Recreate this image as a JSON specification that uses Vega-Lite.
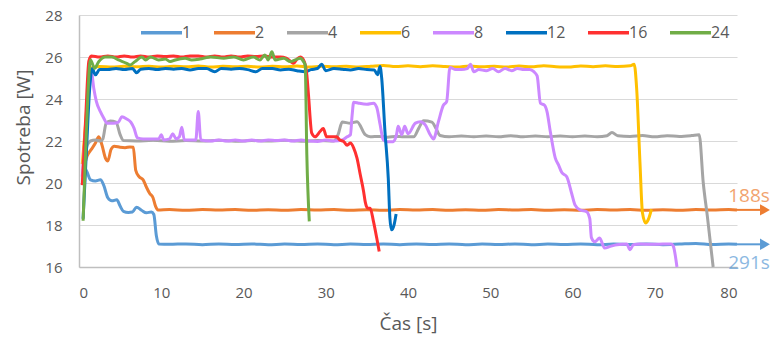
{
  "$schema": "https://vega.github.io/schema/vega-lite/v6.json",
  "width": 658,
  "height": 252,
  "autosize": {"type": "none"},
  "padding": {"left": 79, "top": 15, "right": 40, "bottom": 75},
  "background": "white",
  "config": {
    "view": {"stroke": null},
    "font": "Open Sans",
    "axis": {"labelColor": "#595959", "titleColor": "#595959", "labelFont": "Open Sans", "titleFont": "Open Sans", "titleFontWeight": "normal"}
  },
  "datasets": {
    "power": [
      {"s":1,"x":0.5,"y":20.9},{"s":1,"x":1.0,"y":20.5},{"s":1,"x":1.4,"y":20.15},{"s":1,"x":2.0,"y":20.1},{"s":1,"x":2.6,"y":20.15},{"s":1,"x":3.0,"y":19.9},{"s":1,"x":3.5,"y":19.3},{"s":1,"x":4.0,"y":19.15},{"s":1,"x":4.6,"y":19.2},{"s":1,"x":5.0,"y":18.9},{"s":1,"x":5.4,"y":18.65},{"s":1,"x":6.0,"y":18.6},{"s":1,"x":6.5,"y":18.62},{"s":1,"x":7.0,"y":18.85},{"s":1,"x":7.6,"y":18.7},{"s":1,"x":8.2,"y":18.58},{"s":1,"x":8.8,"y":18.62},{"s":1,"x":9.1,"y":18.5},{"s":1,"x":9.4,"y":17.5},{"s":1,"x":9.7,"y":17.1},{"s":1,"x":11,"y":17.08},{"s":1,"x":13,"y":17.1},{"s":1,"x":15,"y":17.06},{"s":1,"x":17,"y":17.1},{"s":1,"x":19,"y":17.07},{"s":1,"x":21,"y":17.1},{"s":1,"x":23,"y":17.06},{"s":1,"x":25,"y":17.09},{"s":1,"x":27,"y":17.07},{"s":1,"x":29,"y":17.1},{"s":1,"x":31,"y":17.06},{"s":1,"x":33,"y":17.09},{"s":1,"x":35,"y":17.07},{"s":1,"x":37,"y":17.1},{"s":1,"x":39,"y":17.06},{"s":1,"x":41,"y":17.1},{"s":1,"x":43,"y":17.07},{"s":1,"x":45,"y":17.1},{"s":1,"x":47,"y":17.06},{"s":1,"x":49,"y":17.09},{"s":1,"x":51,"y":17.07},{"s":1,"x":53,"y":17.1},{"s":1,"x":55,"y":17.06},{"s":1,"x":57,"y":17.09},{"s":1,"x":59,"y":17.07},{"s":1,"x":61,"y":17.1},{"s":1,"x":63,"y":17.06},{"s":1,"x":65,"y":17.09},{"s":1,"x":67,"y":17.07},{"s":1,"x":69,"y":17.1},{"s":1,"x":71,"y":17.06},{"s":1,"x":73,"y":17.09},{"s":1,"x":75,"y":17.12},{"s":1,"x":77,"y":17.07},{"s":1,"x":79,"y":17.1},{"s":1,"x":80,"y":17.08},

      {"s":2,"x":0.5,"y":20.6},{"s":2,"x":1.0,"y":21.3},{"s":2,"x":1.5,"y":21.6},{"s":2,"x":2.0,"y":21.9},{"s":2,"x":2.4,"y":22.2},{"s":2,"x":2.8,"y":21.8},{"s":2,"x":3.2,"y":21.2},{"s":2,"x":3.5,"y":21.05},{"s":2,"x":3.9,"y":21.6},{"s":2,"x":4.3,"y":21.75},{"s":2,"x":5.0,"y":21.7},{"s":2,"x":5.6,"y":21.68},{"s":2,"x":6.2,"y":21.72},{"s":2,"x":6.6,"y":21.7},{"s":2,"x":6.9,"y":20.6},{"s":2,"x":7.3,"y":20.3},{"s":2,"x":7.8,"y":20.15},{"s":2,"x":8.2,"y":19.8},{"s":2,"x":8.6,"y":19.5},{"s":2,"x":9.0,"y":19.3},{"s":2,"x":9.3,"y":18.9},{"s":2,"x":9.6,"y":18.72},{"s":2,"x":11,"y":18.74},{"s":2,"x":13,"y":18.7},{"s":2,"x":15,"y":18.74},{"s":2,"x":17,"y":18.71},{"s":2,"x":19,"y":18.74},{"s":2,"x":21,"y":18.7},{"s":2,"x":23,"y":18.73},{"s":2,"x":25,"y":18.7},{"s":2,"x":27,"y":18.74},{"s":2,"x":29,"y":18.71},{"s":2,"x":31,"y":18.74},{"s":2,"x":33,"y":18.7},{"s":2,"x":35,"y":18.73},{"s":2,"x":37,"y":18.7},{"s":2,"x":39,"y":18.74},{"s":2,"x":41,"y":18.71},{"s":2,"x":43,"y":18.74},{"s":2,"x":45,"y":18.7},{"s":2,"x":47,"y":18.73},{"s":2,"x":49,"y":18.7},{"s":2,"x":51,"y":18.74},{"s":2,"x":53,"y":18.71},{"s":2,"x":55,"y":18.74},{"s":2,"x":57,"y":18.7},{"s":2,"x":59,"y":18.73},{"s":2,"x":61,"y":18.7},{"s":2,"x":63,"y":18.74},{"s":2,"x":65,"y":18.71},{"s":2,"x":67,"y":18.74},{"s":2,"x":69,"y":18.7},{"s":2,"x":71,"y":18.73},{"s":2,"x":73,"y":18.7},{"s":2,"x":75,"y":18.74},{"s":2,"x":77,"y":18.71},{"s":2,"x":79,"y":18.74},{"s":2,"x":80,"y":18.72},

      {"s":4,"x":0.4,"y":19.9},{"s":4,"x":1.0,"y":21.8},{"s":4,"x":1.4,"y":22.0},{"s":4,"x":2.0,"y":22.05},{"s":4,"x":2.6,"y":22.0},{"s":4,"x":2.9,"y":22.1},{"s":4,"x":3.3,"y":22.85},{"s":4,"x":3.8,"y":22.95},{"s":4,"x":4.5,"y":22.9},{"s":4,"x":5.0,"y":22.3},{"s":4,"x":5.4,"y":22.02},{"s":4,"x":7,"y":22.0},{"s":4,"x":9,"y":22.03},{"s":4,"x":11,"y":21.99},{"s":4,"x":13,"y":22.02},{"s":4,"x":15,"y":22.0},{"s":4,"x":17,"y":22.03},{"s":4,"x":19,"y":21.99},{"s":4,"x":21,"y":22.02},{"s":4,"x":23,"y":22.0},{"s":4,"x":25,"y":22.03},{"s":4,"x":27,"y":21.99},{"s":4,"x":29,"y":22.02},{"s":4,"x":31,"y":22.0},{"s":4,"x":31.5,"y":22.3},{"s":4,"x":32,"y":22.9},{"s":4,"x":33,"y":22.85},{"s":4,"x":33.8,"y":22.92},{"s":4,"x":34.8,"y":22.3},{"s":4,"x":35.4,"y":22.2},{"s":4,"x":36.5,"y":22.22},{"s":4,"x":37.5,"y":22.18},{"s":4,"x":38.5,"y":22.22},{"s":4,"x":39.5,"y":22.2},{"s":4,"x":40.7,"y":22.2},{"s":4,"x":41.3,"y":22.6},{"s":4,"x":41.9,"y":22.96},{"s":4,"x":42.9,"y":22.9},{"s":4,"x":43.4,"y":22.6},{"s":4,"x":43.9,"y":22.26},{"s":4,"x":45,"y":22.2},{"s":4,"x":46.5,"y":22.24},{"s":4,"x":48,"y":22.2},{"s":4,"x":49.5,"y":22.24},{"s":4,"x":51,"y":22.2},{"s":4,"x":52.5,"y":22.25},{"s":4,"x":54,"y":22.2},{"s":4,"x":55.5,"y":22.24},{"s":4,"x":57,"y":22.2},{"s":4,"x":58.5,"y":22.24},{"s":4,"x":60,"y":22.2},{"s":4,"x":61.5,"y":22.24},{"s":4,"x":63,"y":22.2},{"s":4,"x":64.2,"y":22.25},{"s":4,"x":64.8,"y":22.4},{"s":4,"x":65.5,"y":22.25},{"s":4,"x":67,"y":22.22},{"s":4,"x":68.5,"y":22.26},{"s":4,"x":70,"y":22.2},{"s":4,"x":71.5,"y":22.25},{"s":4,"x":73,"y":22.22},{"s":4,"x":74.5,"y":22.26},{"s":4,"x":75.4,"y":22.3},{"s":4,"x":75.9,"y":20.0},{"s":4,"x":76.4,"y":18.4},{"s":4,"x":77.1,"y":16.0},

      {"s":6,"x":0.4,"y":20.9},{"s":6,"x":0.8,"y":22.8},{"s":6,"x":1.2,"y":24.8},{"s":6,"x":1.6,"y":25.5},{"s":6,"x":2.5,"y":25.55},{"s":6,"x":4,"y":25.52},{"s":6,"x":5.5,"y":25.56},{"s":6,"x":7,"y":25.53},{"s":6,"x":8.5,"y":25.56},{"s":6,"x":10,"y":25.52},{"s":6,"x":11.5,"y":25.56},{"s":6,"x":13,"y":25.53},{"s":6,"x":14.5,"y":25.57},{"s":6,"x":16,"y":25.52},{"s":6,"x":17.5,"y":25.56},{"s":6,"x":19,"y":25.53},{"s":6,"x":20.5,"y":25.56},{"s":6,"x":22,"y":25.52},{"s":6,"x":23.5,"y":25.56},{"s":6,"x":25,"y":25.53},{"s":6,"x":26.5,"y":25.57},{"s":6,"x":28,"y":25.52},{"s":6,"x":29.5,"y":25.56},{"s":6,"x":31,"y":25.53},{"s":6,"x":32.5,"y":25.56},{"s":6,"x":34,"y":25.52},{"s":6,"x":35.5,"y":25.56},{"s":6,"x":37,"y":25.6},{"s":6,"x":38.5,"y":25.55},{"s":6,"x":40,"y":25.58},{"s":6,"x":41.5,"y":25.54},{"s":6,"x":43,"y":25.58},{"s":6,"x":44.5,"y":25.55},{"s":6,"x":46,"y":25.52},{"s":6,"x":47.5,"y":25.57},{"s":6,"x":49,"y":25.53},{"s":6,"x":50.5,"y":25.56},{"s":6,"x":52,"y":25.52},{"s":6,"x":53.5,"y":25.57},{"s":6,"x":55,"y":25.53},{"s":6,"x":56.5,"y":25.58},{"s":6,"x":58,"y":25.54},{"s":6,"x":59.5,"y":25.52},{"s":6,"x":61,"y":25.57},{"s":6,"x":62.5,"y":25.54},{"s":6,"x":64,"y":25.58},{"s":6,"x":65.5,"y":25.55},{"s":6,"x":67,"y":25.58},{"s":6,"x":67.5,"y":25.65},{"s":6,"x":67.8,"y":24.5},{"s":6,"x":68.2,"y":21.0},{"s":6,"x":68.5,"y":18.6},{"s":6,"x":68.9,"y":18.1},{"s":6,"x":69.2,"y":18.25},{"s":6,"x":69.6,"y":18.75},

      {"s":8,"x":0.4,"y":20.3},{"s":8,"x":1.0,"y":23.5},{"s":8,"x":1.5,"y":25.3},{"s":8,"x":1.8,"y":24.5},{"s":8,"x":2.1,"y":23.9},{"s":8,"x":2.6,"y":23.4},{"s":8,"x":3.0,"y":23.1},{"s":8,"x":3.4,"y":22.85},{"s":8,"x":4.2,"y":22.85},{"s":8,"x":4.8,"y":22.9},{"s":8,"x":5.2,"y":23.15},{"s":8,"x":5.8,"y":23.05},{"s":8,"x":6.3,"y":22.9},{"s":8,"x":6.7,"y":22.6},{"s":8,"x":7.1,"y":22.15},{"s":8,"x":7.8,"y":22.1},{"s":8,"x":9.0,"y":22.1},{"s":8,"x":9.7,"y":22.1},{"s":8,"x":10.0,"y":22.3},{"s":8,"x":10.3,"y":22.05},{"s":8,"x":11.0,"y":22.1},{"s":8,"x":11.4,"y":22.35},{"s":8,"x":11.8,"y":22.1},{"s":8,"x":12.2,"y":22.2},{"s":8,"x":12.5,"y":22.65},{"s":8,"x":12.8,"y":22.05},{"s":8,"x":13.5,"y":22.05},{"s":8,"x":14.2,"y":22.05},{"s":8,"x":14.5,"y":23.4},{"s":8,"x":14.8,"y":22.05},{"s":8,"x":16,"y":22.0},{"s":8,"x":17,"y":22.05},{"s":8,"x":18,"y":22.0},{"s":8,"x":19,"y":22.05},{"s":8,"x":20,"y":22.0},{"s":8,"x":21,"y":22.05},{"s":8,"x":22,"y":22.0},{"s":8,"x":23,"y":22.05},{"s":8,"x":24,"y":22.02},{"s":8,"x":25,"y":22.05},{"s":8,"x":26,"y":22.0},{"s":8,"x":27,"y":22.05},{"s":8,"x":28,"y":22.0},{"s":8,"x":29,"y":21.98},{"s":8,"x":30,"y":22.05},{"s":8,"x":31,"y":22.0},{"s":8,"x":32,"y":22.05},{"s":8,"x":32.6,"y":22.2},{"s":8,"x":33.0,"y":22.3},{"s":8,"x":33.2,"y":23.2},{"s":8,"x":33.4,"y":23.85},{"s":8,"x":34,"y":23.8},{"s":8,"x":35,"y":23.75},{"s":8,"x":35.8,"y":23.8},{"s":8,"x":36.2,"y":23.6},{"s":8,"x":36.6,"y":22.8},{"s":8,"x":37.0,"y":22.05},{"s":8,"x":37.4,"y":21.97},{"s":8,"x":38.2,"y":21.97},{"s":8,"x":38.6,"y":22.3},{"s":8,"x":38.8,"y":22.7},{"s":8,"x":39.25,"y":22.3},{"s":8,"x":39.6,"y":22.7},{"s":8,"x":40.0,"y":22.35},{"s":8,"x":40.9,"y":22.85},{"s":8,"x":41.5,"y":22.92},{"s":8,"x":42.1,"y":22.77},{"s":8,"x":42.7,"y":22.3},{"s":8,"x":43.1,"y":22.1},{"s":8,"x":43.7,"y":22.92},{"s":8,"x":44.3,"y":23.7},{"s":8,"x":44.7,"y":23.87},{"s":8,"x":45.1,"y":25.5},{"s":8,"x":45.8,"y":25.4},{"s":8,"x":46.5,"y":25.4},{"s":8,"x":47.2,"y":25.45},{"s":8,"x":47.6,"y":25.65},{"s":8,"x":48.0,"y":25.3},{"s":8,"x":48.6,"y":25.4},{"s":8,"x":49.5,"y":25.35},{"s":8,"x":50.3,"y":25.45},{"s":8,"x":51.0,"y":25.3},{"s":8,"x":51.8,"y":25.45},{"s":8,"x":52.6,"y":25.35},{"s":8,"x":53.3,"y":25.45},{"s":8,"x":54.1,"y":25.4},{"s":8,"x":54.8,"y":25.4},{"s":8,"x":55.3,"y":25.3},{"s":8,"x":55.7,"y":25.1},{"s":8,"x":56.1,"y":23.8},{"s":8,"x":56.6,"y":23.7},{"s":8,"x":56.9,"y":23.4},{"s":8,"x":57.3,"y":22.45},{"s":8,"x":57.9,"y":21.2},{"s":8,"x":58.3,"y":20.86},{"s":8,"x":58.7,"y":20.5},{"s":8,"x":59.3,"y":20.3},{"s":8,"x":59.9,"y":19.5},{"s":8,"x":60.3,"y":18.96},{"s":8,"x":60.9,"y":18.72},{"s":8,"x":61.7,"y":18.64},{"s":8,"x":62.1,"y":18.3},{"s":8,"x":62.3,"y":17.4},{"s":8,"x":62.7,"y":17.2},{"s":8,"x":63.3,"y":17.38},{"s":8,"x":63.9,"y":16.9},{"s":8,"x":64.6,"y":16.98},{"s":8,"x":65.4,"y":17.06},{"s":8,"x":66.6,"y":17.09},{"s":8,"x":67.0,"y":16.82},{"s":8,"x":67.4,"y":17.06},{"s":8,"x":68.2,"y":17.09},{"s":8,"x":70,"y":17.08},{"s":8,"x":72.0,"y":17.1},{"s":8,"x":72.25,"y":17.0},{"s":8,"x":72.7,"y":16.0},

      {"s":12,"x":0.5,"y":18.3},{"s":12,"x":0.9,"y":21.5},{"s":12,"x":1.3,"y":24.5},{"s":12,"x":1.6,"y":25.45},{"s":12,"x":2.0,"y":25.15},{"s":12,"x":2.5,"y":25.4},{"s":12,"x":3.5,"y":25.4},{"s":12,"x":4.5,"y":25.45},{"s":12,"x":5.5,"y":25.4},{"s":12,"x":6.5,"y":25.45},{"s":12,"x":7.0,"y":25.25},{"s":12,"x":7.5,"y":25.42},{"s":12,"x":8.5,"y":25.45},{"s":12,"x":9.5,"y":25.4},{"s":12,"x":10.5,"y":25.45},{"s":12,"x":11.5,"y":25.42},{"s":12,"x":12.5,"y":25.45},{"s":12,"x":13.5,"y":25.38},{"s":12,"x":14.5,"y":25.45},{"s":12,"x":15.5,"y":25.45},{"s":12,"x":16.5,"y":25.3},{"s":12,"x":17.3,"y":25.45},{"s":12,"x":18.5,"y":25.42},{"s":12,"x":19.5,"y":25.45},{"s":12,"x":20.5,"y":25.4},{"s":12,"x":21.5,"y":25.3},{"s":12,"x":22.3,"y":25.45},{"s":12,"x":23.5,"y":25.45},{"s":12,"x":24.5,"y":25.38},{"s":12,"x":25.5,"y":25.42},{"s":12,"x":26.5,"y":25.35},{"s":12,"x":27.5,"y":25.3},{"s":12,"x":28.2,"y":25.4},{"s":12,"x":29,"y":25.45},{"s":12,"x":29.5,"y":25.65},{"s":12,"x":30,"y":25.35},{"s":12,"x":31,"y":25.45},{"s":12,"x":32,"y":25.42},{"s":12,"x":33,"y":25.38},{"s":12,"x":34,"y":25.45},{"s":12,"x":35,"y":25.4},{"s":12,"x":35.9,"y":25.38},{"s":12,"x":36.3,"y":25.15},{"s":12,"x":36.6,"y":25.55},{"s":12,"x":36.8,"y":25.0},{"s":12,"x":37.2,"y":22.45},{"s":12,"x":37.6,"y":20.23},{"s":12,"x":37.8,"y":18.33},{"s":12,"x":38.0,"y":17.77},{"s":12,"x":38.3,"y":18.0},{"s":12,"x":38.55,"y":18.52},

      {"s":16,"x":0.4,"y":19.9},{"s":16,"x":0.8,"y":23.0},{"s":16,"x":1.2,"y":25.8},{"s":16,"x":1.5,"y":26.05},{"s":16,"x":2.5,"y":26.0},{"s":16,"x":3.5,"y":26.05},{"s":16,"x":4.5,"y":26.0},{"s":16,"x":5.5,"y":26.05},{"s":16,"x":6.5,"y":26.0},{"s":16,"x":7.5,"y":26.05},{"s":16,"x":8.5,"y":26.0},{"s":16,"x":9.5,"y":26.05},{"s":16,"x":10.5,"y":26.02},{"s":16,"x":11.5,"y":26.05},{"s":16,"x":12.5,"y":26.0},{"s":16,"x":13.5,"y":26.05},{"s":16,"x":14.5,"y":26.05},{"s":16,"x":15.5,"y":26.0},{"s":16,"x":16.5,"y":26.05},{"s":16,"x":17.5,"y":26.0},{"s":16,"x":18.5,"y":26.05},{"s":16,"x":19.5,"y":26.0},{"s":16,"x":20.5,"y":26.05},{"s":16,"x":21.5,"y":26.02},{"s":16,"x":22.5,"y":26.05},{"s":16,"x":23.5,"y":26.0},{"s":16,"x":24.5,"y":26.0},{"s":16,"x":25.2,"y":25.95},{"s":16,"x":25.7,"y":25.8},{"s":16,"x":26.1,"y":25.7},{"s":16,"x":26.5,"y":25.9},{"s":16,"x":26.9,"y":26.0},{"s":16,"x":27.3,"y":25.86},{"s":16,"x":27.7,"y":25.15},{"s":16,"x":27.9,"y":24.2},{"s":16,"x":28.3,"y":22.37},{"s":16,"x":28.7,"y":22.2},{"s":16,"x":29.3,"y":22.45},{"s":16,"x":29.7,"y":22.6},{"s":16,"x":30.1,"y":22.2},{"s":16,"x":30.5,"y":22.2},{"s":16,"x":31.3,"y":22.2},{"s":16,"x":31.7,"y":22.05},{"s":16,"x":32.2,"y":21.97},{"s":16,"x":32.6,"y":21.8},{"s":16,"x":33.0,"y":21.9},{"s":16,"x":33.4,"y":21.66},{"s":16,"x":33.8,"y":21.18},{"s":16,"x":34.2,"y":20.39},{"s":16,"x":34.6,"y":19.6},{"s":16,"x":34.8,"y":19.1},{"s":16,"x":35.1,"y":18.8},{"s":16,"x":35.4,"y":18.8},{"s":16,"x":35.8,"y":18.17},{"s":16,"x":36.2,"y":17.38},{"s":16,"x":36.5,"y":16.74},

      {"s":24,"x":0.5,"y":18.2},{"s":24,"x":0.9,"y":22.5},{"s":24,"x":1.4,"y":25.86},{"s":24,"x":1.9,"y":25.46},{"s":24,"x":2.4,"y":25.78},{"s":24,"x":3.2,"y":26.0},{"s":24,"x":4.0,"y":26.0},{"s":24,"x":4.8,"y":25.86},{"s":24,"x":5.8,"y":25.7},{"s":24,"x":6.2,"y":25.62},{"s":24,"x":6.8,"y":25.78},{"s":24,"x":7.65,"y":26.0},{"s":24,"x":8.1,"y":25.86},{"s":24,"x":8.7,"y":26.0},{"s":24,"x":9.7,"y":25.86},{"s":24,"x":10.5,"y":25.9},{"s":24,"x":11.1,"y":25.78},{"s":24,"x":11.7,"y":25.86},{"s":24,"x":12.9,"y":25.94},{"s":24,"x":13.7,"y":25.86},{"s":24,"x":14.7,"y":25.9},{"s":24,"x":16.0,"y":26.0},{"s":24,"x":17.6,"y":25.94},{"s":24,"x":18.8,"y":26.0},{"s":24,"x":20.0,"y":25.86},{"s":24,"x":21.2,"y":26.0},{"s":24,"x":22.0,"y":25.86},{"s":24,"x":22.6,"y":26.1},{"s":24,"x":23.0,"y":25.86},{"s":24,"x":23.45,"y":26.25},{"s":24,"x":23.85,"y":25.86},{"s":24,"x":24.9,"y":25.94},{"s":24,"x":25.7,"y":25.78},{"s":24,"x":26.3,"y":25.86},{"s":24,"x":26.9,"y":25.94},{"s":24,"x":27.3,"y":25.78},{"s":24,"x":27.5,"y":25.62},{"s":24,"x":27.7,"y":21.34},{"s":24,"x":28.0,"y":18.17}
    ],
    "arrows": [
      {"s":2,"y":18.72,"from":80,"to":82.8,"tip":83.4,"labelX":84,"labelY":19.1,"t":"188s"},
      {"s":1,"y":17.08,"from":80,"to":82.8,"tip":83.4,"labelX":84,"labelY":15.9,"t":"291s"}
    ]
  },
  "layer": [
    {
      "data": {"name": "power"},
      "mark": {"type": "line", "strokeWidth": 3, "interpolate": "monotone"},
      "encoding": {
        "x": {
          "field": "x", "type": "quantitative",
          "scale": {"domain": [0, 80], "nice": false, "zero": false},
          "axis": {
            "title": "Čas [s]", "values": [0,10,20,30,40,50,60,70,80], "grid": false, "ticks": false,
            "domainColor": "#BFBFBF", "domainWidth": 1.5,
            "labelFontSize": 15, "labelPadding": 18,
            "titleFontSize": 19, "titleX": 329, "titleY": 62, "titleBaseline": "alphabetic", "titleAnchor": null, "titleAlign": "center"
          }
        },
        "y": {
          "field": "y", "type": "quantitative",
          "scale": {"domain": [16, 28], "nice": false, "zero": false},
          "axis": {
            "title": "Spotreba [W]", "values": [16,18,20,22,24,26,28], "ticks": false,
            "grid": true, "gridColor": "#D9D9D9", "gridWidth": 1.2,
            "domainColor": "#BFBFBF", "domainWidth": 1.5,
            "labelFontSize": 15, "labelPadding": 17,
            "titleFontSize": 19, "titleAngle": -90, "titleX": -50, "titleY": 112, "titleBaseline": "alphabetic", "titleAlign": "center"
          }
        },
        "color": {
          "field": "s", "type": "nominal",
          "scale": {
            "domain": [1, 2, 4, 6, 8, 12, 16, 24],
            "range": ["#5B9BD5", "#ED7D31", "#A5A5A5", "#FFC000", "#CC88FF", "#0070C0", "#FF3030", "#70AD47"]
          },
          "legend": {
            "title": null, "orient": "none", "direction": "horizontal",
            "legendX": 60, "legendY": -5,
            "symbolType": "stroke", "symbolSize": 1681, "symbolStrokeWidth": 3.5,
            "labelFontSize": 16, "labelColor": "#595959", "labelOffset": -2, "columnPadding": 15,
            "labelFont": "Open Sans"
          }
        }
      }
    },
    {
      "data": {"name": "arrows"},
      "mark": {"type": "rule", "strokeWidth": 2},
      "encoding": {
        "x": {"field": "from", "type": "quantitative"},
        "x2": {"field": "to"},
        "y": {"field": "y", "type": "quantitative"},
        "color": {"field": "s", "type": "nominal", "legend": null}
      }
    },
    {
      "data": {"name": "arrows"},
      "mark": {"type": "point", "shape": "triangle-right", "filled": true, "size": 130, "opacity": 1},
      "encoding": {
        "x": {"field": "tip", "type": "quantitative"},
        "y": {"field": "y", "type": "quantitative"},
        "color": {"field": "s", "type": "nominal", "legend": null}
      }
    },
    {
      "data": {"name": "arrows"},
      "mark": {"type": "text", "align": "right", "baseline": "alphabetic", "fontSize": 19, "font": "Open Sans", "opacity": 0.7},
      "encoding": {
        "x": {"field": "labelX", "type": "quantitative"},
        "y": {"field": "labelY", "type": "quantitative"},
        "text": {"field": "t"},
        "color": {"field": "s", "type": "nominal", "legend": null}
      }
    }
  ]
}
